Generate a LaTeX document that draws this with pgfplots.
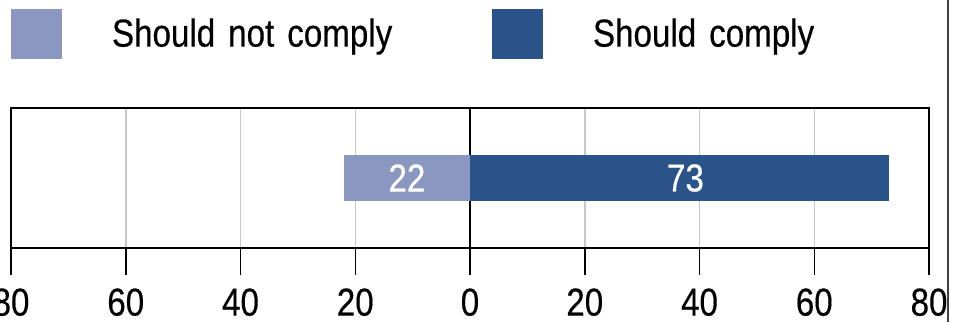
\documentclass[border=0pt]{standalone}
\usepackage{fontspec}
\setmainfont{Liberation Sans}[FakeStretch=0.85, FakeBold=0.4]
\usepackage{pgfplots}
\pgfplotsset{compat=1.18}

\definecolor{notcomply}{RGB}{138,151,193}
\definecolor{comply}{RGB}{42,84,137}
\definecolor{gridgray}{RGB}{200,200,200}

\newcommand{\chartfont}{\fontsize{19.5}{23}\selectfont}

\begin{document}
\begin{tikzpicture}
\path[use as bounding box] (0,0) rectangle (476.5pt,161pt);
\begin{axis}[
  at={(5.5pt,37pt)}, anchor=south west,
  scale only axis,
  width=459pt, height=70pt,
  xmin=-80, xmax=80, ymin=-1, ymax=1,
  ytick=\empty,
  xtick={-80,-60,-40,-20,20,40,60,80},
  xticklabels={80,60,40,20,20,40,60,80},
  extra x ticks={0},
  extra x tick labels={0},
  extra x tick style={grid style={black, line width=0.75pt}},
  xtick pos=lower,
  tick align=outside,
  major tick length=13.5pt,
  tick style={black, line width=0.75pt},
  axis line style={black, line width=0.75pt},
  xmajorgrids,
  grid style={gridgray, line width=0.75pt},
  /pgf/number format/assume math mode=true,
  tick label style={font=\chartfont},
  xticklabel style={anchor=north, inner sep=0pt, yshift=-6.5pt},
  xbar, bar width=23pt, bar shift=0pt,
  point meta=explicit,
  nodes near coords,
  visualization depends on={x \as \xval},
  every node near coord/.append style={anchor=center, text=white,
    font=\chartfont, inner sep=0pt,
    shift={(axis direction cs:-\xval/2,0)}},
  legend columns=2,
  legend cell align=left,
  legend image code/.code={\fill[#1] (0pt,-12.5pt) rectangle (25.5pt,12.5pt);},
  legend style={at={(0,1)}, anchor=north west, yshift=49.5pt,
    draw=none, fill=none, inner sep=0pt, outer sep=0pt,
    font=\chartfont,
    nodes={inner sep=0pt, anchor=west, text width=190pt, align=left},
    column sep=25pt,
    /tikz/every even column/.append style={column sep=0pt}},
]
\addplot[fill=notcomply, draw=none] coordinates {(-22,0) [22]};
\addlegendentry{Should not comply}
\addplot[fill=comply, draw=none,
  every node near coord/.append style={xshift=3pt}]
  coordinates {(73,0) [73]};
\addlegendentry{Should comply}
\end{axis}
\draw[black!75, line width=0.6pt] (474pt,0pt) -- (474pt,161pt);
\end{tikzpicture}
\end{document}
